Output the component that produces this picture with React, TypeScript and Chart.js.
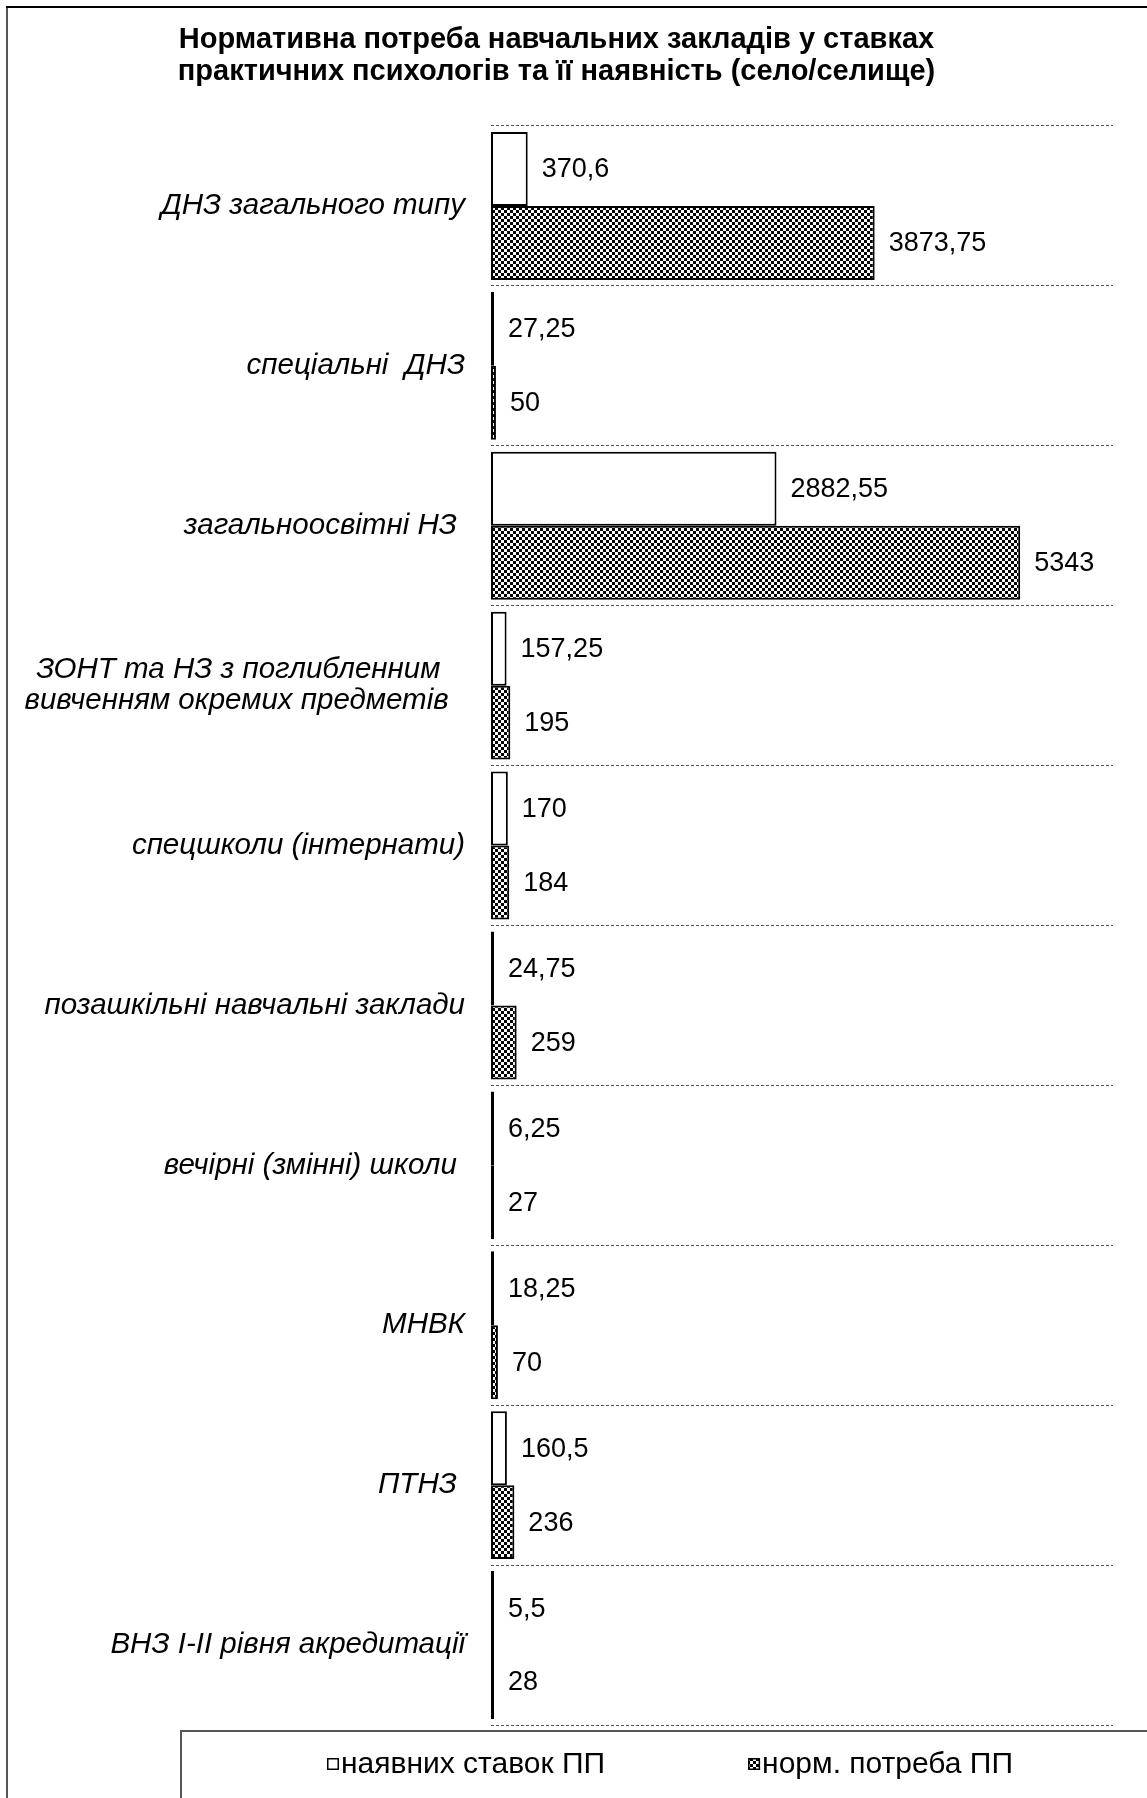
import React, { useEffect, useRef } from 'react';
import { Chart, registerables } from 'chart.js';

Chart.register(...registerables);

const FONT = '"Liberation Sans", Arial, sans-serif';

const categories: (string | string[])[] = [
  'ДНЗ загального типу',
  'спеціальні  ДНЗ',
  'загальноосвітні НЗ ',
  ['ЗОНТ та НЗ з поглибленним   ', 'вивченням окремих предметів  '],
  'спецшколи (інтернати)',
  'позашкільні навчальні заклади',
  'вечірні (змінні) школи ',
  'МНВК',
  'ПТНЗ ',
  'ВНЗ I-II рівня акредитації',
];

const seriesLabels = ['наявних ставок ПП', 'норм. потреба ПП'];
const availablePositions = [370.6, 27.25, 2882.55, 157.25, 170, 24.75, 6.25, 18.25, 160.5, 5.5];
const normativeNeed = [3873.75, 50, 5343, 195, 184, 259, 27, 70, 236, 28];

const xAxisMax = 6280;

const titleLines = [
  'Нормативна потреба навчальних закладів у ставках',
  'практичних психологів та її наявність (село/селище)',
];

const W = 1147;
const H = 1798;

function makePattern(ctx: CanvasRenderingContext2D): CanvasPattern | string {
  const pc = document.createElement('canvas');
  pc.width = 6;
  pc.height = 6;
  const p = pc.getContext('2d');
  if (!p) return '#444';
  p.fillStyle = '#ffffff';
  p.fillRect(0, 0, 6, 6);
  p.fillStyle = '#000000';
  p.fillRect(0, 0, 3, 3);
  p.fillRect(3, 3, 3, 3);
  return ctx.createPattern(pc, 'repeat') || '#444';
}

const fmt = (v: number) => String(v).replace('.', ',');

export default function App() {
  const ref = useRef<HTMLCanvasElement | null>(null);

  useEffect(() => {
    document.body.style.margin = '0';
    const canvas = ref.current;
    if (!canvas) return;
    const ctx0 = canvas.getContext('2d') as CanvasRenderingContext2D;
    const pattern = makePattern(ctx0);

    const framePlugin = {
      id: 'frame',
      beforeDraw(chart: any) {
        const ctx = chart.ctx as CanvasRenderingContext2D;
        ctx.save();
        ctx.fillStyle = '#ffffff';
        ctx.fillRect(0, 0, chart.width, chart.height);
        ctx.lineWidth = 2;
        ctx.strokeStyle = '#555555';
        ctx.beginPath();
        ctx.moveTo(7, 7);
        ctx.lineTo(7, chart.height);
        ctx.stroke();
        ctx.strokeStyle = '#000000';
        ctx.beginPath();
        ctx.moveTo(6, 7);
        ctx.lineTo(chart.width, 7);
        ctx.stroke();
        ctx.restore();
      },
    };

    const valueLabelPlugin = {
      id: 'valueLabels',
      afterDatasetsDraw(chart: any) {
        const ctx = chart.ctx as CanvasRenderingContext2D;
        ctx.save();
        ctx.font = `27px ${FONT}`;
        ctx.fillStyle = '#000000';
        ctx.textAlign = 'left';
        ctx.textBaseline = 'middle';
        chart.data.datasets.forEach((ds: any, di: number) => {
          const meta = chart.getDatasetMeta(di);
          meta.data.forEach((el: any, i: number) => {
            ctx.fillText(fmt(ds.data[i]), el.x + 14, el.y + 1);
          });
        });
        ctx.restore();
      },
    };

    const legendPlugin = {
      id: 'customLegend',
      afterDraw(chart: any) {
        const ctx = chart.ctx as CanvasRenderingContext2D;
        ctx.save();
        ctx.lineWidth = 2;
        ctx.strokeStyle = '#555555';
        ctx.strokeRect(181, 1731, 2000, 400);
        ctx.font = `30px ${FONT}`;
        ctx.textBaseline = 'middle';
        ctx.textAlign = 'left';
        const box = 12;
        const boxGap = 2;
        const itemGap = 143;
        const items = chart.data.datasets.map((ds: any) => ({
          label: ds.label as string,
          bg: ds.backgroundColor,
          w: box + boxGap + ctx.measureText(ds.label).width,
        }));
        const total = items.reduce((s: number, it: any) => s + it.w, 0) + itemGap * (items.length - 1);
        let x = 670 - total / 2;
        const cy = 1764;
        items.forEach((it: any) => {
          ctx.fillStyle = it.bg;
          ctx.fillRect(x, cy - box / 2, box, box);
          ctx.lineWidth = 1.5;
          ctx.strokeStyle = '#000000';
          ctx.strokeRect(x + 0.75, cy - box / 2 + 0.75, box - 1.5, box - 1.5);
          ctx.fillStyle = '#000000';
          ctx.fillText(it.label, x + box + boxGap, cy + 1);
          x += it.w + itemGap;
        });
        ctx.restore();
      },
    };

    const common = {
      borderColor: '#000000',
      borderWidth: 2,
      borderSkipped: false,
      minBarLength: 3,
      categoryPercentage: 0.925,
      barPercentage: 1,
    };

    const chart = new Chart(canvas, {
      type: 'bar',
      data: {
        labels: categories,
        datasets: [
          { ...common, label: seriesLabels[0], data: availablePositions, backgroundColor: '#ffffff' },
          { ...common, label: seriesLabels[1], data: normativeNeed, backgroundColor: pattern as any },
        ],
      },
      options: {
        indexAxis: 'y',
        responsive: false,
        maintainAspectRatio: false,
        animation: false,
        devicePixelRatio: 1,
        layout: { padding: { left: 0, right: 34, top: 24, bottom: 73 } },
        plugins: {
          legend: { display: false },
          tooltip: { enabled: false },
          title: {
            display: true,
            text: titleLines,
            color: '#000000',
            font: { family: FONT, size: 29, weight: 'bold', lineHeight: 32 / 29 },
            padding: { top: 0, bottom: 38 },
          },
        },
        scales: {
          x: { display: false, min: 0, max: xAxisMax },
          y: {
            grid: {
              offset: true,
              color: '#555555',
              lineWidth: 1,
              drawTicks: false,
              borderDash: [3, 2],
            } as any,
            border: { display: false, dash: [3, 2] },
            ticks: {
              padding: 26,
              color: '#000000',
              autoSkip: false,
              font: { family: FONT, size: 29.5, style: 'italic', lineHeight: 31 / 29.5 },
            },
            afterFit: (scale: any) => {
              scale.width = 491;
            },
          },
        },
      } as any,
      plugins: [framePlugin, valueLabelPlugin, legendPlugin],
    });

    return () => {
      chart.destroy();
    };
  }, []);

  return (
    <div style={{ width: W, height: H, position: 'relative', overflow: 'hidden', background: '#fff' }}>
      <canvas ref={ref} width={W} height={H} style={{ display: 'block', width: W, height: H }} />
    </div>
  );
}
